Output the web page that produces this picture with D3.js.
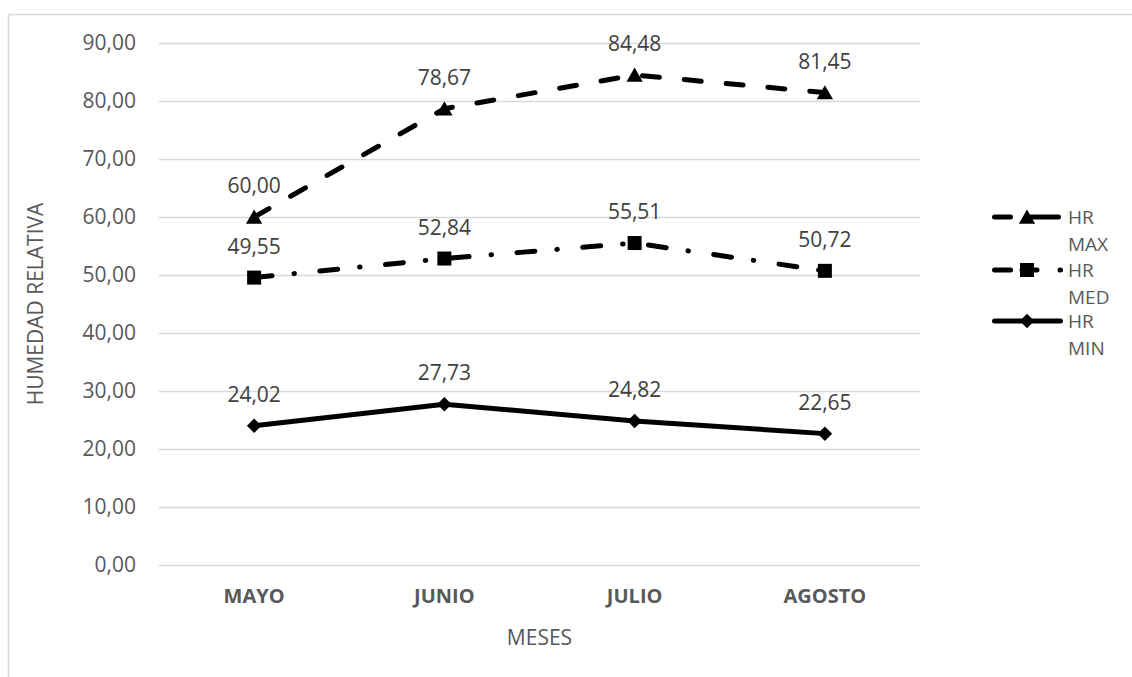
<!DOCTYPE html>
<html>
<head>
<meta charset="utf-8">
<script src="https://cdn.jsdelivr.net/npm/d3@7"></script>
<style>
  html, body { margin: 0; padding: 0; background: #fff; }
  svg { display: block; font-family: "Open Sans", sans-serif; }
</style>
</head>
<body>
<svg id="chart" width="1132" height="677"></svg>
<script>
// Months and relative humidity values (%)
const months = ["MAYO", "JUNIO", "JULIO", "AGOSTO"];
const hrMax = [60.00, 78.67, 84.48, 81.45];
const hrMed = [49.55, 52.84, 55.51, 50.72];
const hrMin = [24.02, 27.73, 24.82, 22.65];
const yTicks = [0, 10, 20, 30, 40, 50, 60, 70, 80, 90];
const seriesNames = ["HR MAX", "HR MED", "HR MIN"];

const svg = d3.select("#chart");
const W = 1132, H = 677;
const plot = { left: 159, right: 920, top: 43, bottom: 565 };

// chart frame
svg.append("rect")
  .attr("x", 8.5).attr("y", 14.5)
  .attr("width", W + 10).attr("height", H + 10)
  .attr("fill", "#fff").attr("stroke", "#d9d9d9").attr("stroke-width", 1.5);

const x = d3.scaleBand().domain(months).range([plot.left, plot.right]).padding(0);
const y = d3.scaleLinear().domain([0, 90]).range([plot.bottom, plot.top]);
const cx = m => x(m) + x.bandwidth() / 2;

const fmt = v => d3.format(".2f")(v).replace(".", ",");

// gridlines + y tick labels
const yAxis = d3.axisLeft(y).tickValues(yTicks).tickFormat(fmt)
  .tickSize(-(plot.right - plot.left)).tickPadding(23);
const gy = svg.append("g").attr("transform", `translate(${plot.left},0)`).call(yAxis);
gy.select(".domain").remove();
gy.selectAll(".tick line").attr("stroke", "#d9d9d9").attr("stroke-width", 1.5);
gy.selectAll(".tick text").attr("fill", "#595959")
  .style("font-size", "21px").style("font-family", "'Open Sans', sans-serif");

// x category labels
const xAxis = d3.axisBottom(x).tickSize(0).tickPadding(24);
const gx = svg.append("g").attr("transform", `translate(0,${plot.bottom})`).call(xAxis);
gx.select(".domain").remove();
gx.selectAll(".tick text").attr("fill", "#595959")
  .style("font-size", "20px").style("font-weight", "bold")
  .style("font-family", "'Open Sans', sans-serif");

// axis titles
svg.append("text").attr("x", (plot.left + plot.right) / 2).attr("y", 645)
  .attr("text-anchor", "middle").attr("fill", "#595959")
  .style("font-size", "21px").text("MESES");
svg.append("text")
  .attr("transform", `translate(43,${(plot.top + plot.bottom) / 2}) rotate(-90)`)
  .attr("text-anchor", "middle").attr("fill", "#595959")
  .style("font-size", "21px").text("HUMEDAD RELATIVA");

// marker shapes
const triPath = d3.symbol().type(d3.symbolTriangle).size(115)();
const sqPath = d3.symbol().type(d3.symbolSquare).size(196)();
const diaPath = d3.symbol().type(d3.symbolSquare).size(105)();

const series = [
  { name: seriesNames[0], values: hrMax, dash: "17,25", marker: triPath, rot: 0, dy: 2 },
  { name: seriesNames[1], values: hrMed, dash: "18,22,0.5,25.5", marker: sqPath, rot: 0, dy: 0 },
  { name: seriesNames[2], values: hrMin, dash: null, marker: diaPath, rot: 45, dy: 0 }
];

const line = d3.line().x((d, i) => cx(months[i])).y(d => y(d));

series.forEach(s => {
  const g = svg.append("g");
  g.append("path").datum(s.values)
    .attr("d", line).attr("fill", "none").attr("stroke", "#000")
    .attr("stroke-width", 5).attr("stroke-linecap", "round").attr("stroke-linejoin", "round")
    .attr("stroke-dasharray", s.dash);
  g.selectAll("path.mk").data(s.values).join("path").attr("class", "mk")
    .attr("d", s.marker).attr("fill", "#000")
    .attr("transform", (d, i) => `translate(${cx(months[i])},${y(d) + s.dy}) rotate(${s.rot})`);
  g.selectAll("text").data(s.values).join("text")
    .attr("x", (d, i) => cx(months[i])).attr("y", d => y(d) - 24)
    .attr("text-anchor", "middle").attr("fill", "#404040")
    .style("font-size", "21px").text(d => fmt(d));
});

// legend
const legendY = [217, 270, 321];
const legendDash = ["16,20,28,100", "16,11.5,15,23,0.5,100", null];
series.forEach((s, i) => {
  const ly = legendY[i];
  const g = svg.append("g");
  g.append("line").attr("x1", 994.5).attr("x2", 1060.5).attr("y1", ly).attr("y2", ly)
    .attr("stroke", "#000").attr("stroke-width", 5).attr("stroke-linecap", "round")
    .attr("stroke-dasharray", legendDash[i]);
  g.append("path").attr("d", s.marker).attr("fill", "#000")
    .attr("transform", `translate(1027,${ly + s.dy}) rotate(${s.rot})`);
  const parts = s.name.split(" ");
  const t = g.append("text").attr("x", 1068).attr("y", ly + 7).attr("fill", "#595959")
    .style("font-size", "19px");
  parts.forEach((p, j) => t.append("tspan").attr("x", 1068).attr("dy", j === 0 ? 0 : 26.5).text(p));
});
</script>
</body>
</html>
